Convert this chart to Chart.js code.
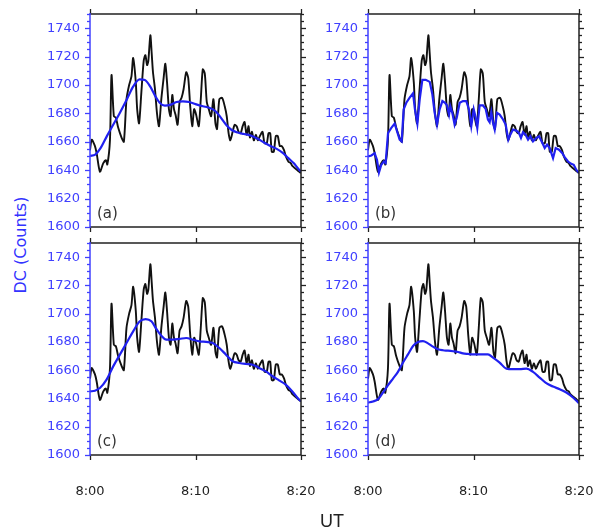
<!DOCTYPE html>
<html>
<head>
<meta charset="utf-8">
<script src="https://cdn.jsdelivr.net/npm/chart.js@4"></script>
<style>
body{margin:0;background:#fff;width:604px;height:530px;overflow:hidden;position:relative;font-family:"Liberation Sans",Arial,sans-serif}
canvas{position:absolute}
#ytitle{position:absolute;left:20px;top:245px;transform:translate(-50%,-50%) rotate(-90deg);color:#3333ff;font-size:16px;font-family:"DejaVu Sans",sans-serif;white-space:nowrap}
#xtitle{position:absolute;left:332px;top:521px;transform:translate(-50%,-50%);color:#222;font-size:18px}
</style>
</head>
<body>
<canvas id="pa" width="294" height="236" style="left:32px;top:0px"></canvas>
<canvas id="pb" width="294" height="236" style="left:310px;top:0px"></canvas>
<canvas id="pc" width="294" height="280" style="left:32px;top:229px"></canvas>
<canvas id="pd" width="294" height="280" style="left:310px;top:229px"></canvas>
<div id="ytitle">DC (Counts)</div>
<div id="xtitle">UT</div>
<script>
// DATA  (time in minutes after 8:00)
const xTickLabels = ['8:00', '8:10', '8:20'];
const yTickValues = [1600, 1620, 1640, 1660, 1680, 1700, 1720, 1740];
const panelLabels = ['(a)', '(b)', '(c)', '(d)'];

const timeBlack = [0, 0.16, 0.47, 0.63, 0.94, 1.26, 1.51, 1.64, 1.89, 2.04, 2.26, 2.45, 2.67, 2.99, 3.21, 3.46, 3.71, 3.93, 4.09, 4.34,
  4.47, 4.65, 4.87, 5.09, 5.25, 5.41, 5.53, 5.72, 5.85, 5.97, 6.16, 6.35, 6.54, 6.76, 6.98, 7.14, 7.30, 7.48, 7.64, 7.80,
  7.96, 8.11, 8.30, 8.49, 8.68, 8.87, 9.12, 9.31, 9.50, 9.69, 9.87, 10.06, 10.31, 10.50, 10.69, 10.88, 11.07, 11.26, 11.48, 11.70,
  11.89, 12.04, 12.26, 12.52, 12.77, 12.96, 13.14, 13.30, 13.52, 13.71, 13.90, 14.09, 14.28, 14.47, 14.65, 14.84, 15.03, 15.16, 15.35, 15.53,
  15.72, 15.91, 16.10, 16.35, 16.54, 16.76, 16.92, 17.08, 17.23, 17.42, 17.61, 17.80, 17.99, 18.18, 18.40, 18.55, 18.81, 19.03, 19.18, 19.50,
  19.81, 20.00];
const dcBlack = [1654, 1661.5, 1657, 1652, 1639, 1645, 1647, 1644, 1661, 1707, 1678, 1677, 1670, 1663, 1660, 1690, 1700, 1706, 1719, 1702,
  1683, 1673, 1695, 1717, 1721, 1714, 1717, 1735, 1722, 1709, 1697, 1680, 1671, 1690, 1705, 1715, 1702, 1683, 1678, 1693,
  1683, 1679, 1672, 1688, 1691, 1697, 1709, 1705, 1685, 1671, 1683, 1679, 1671, 1690, 1711, 1708, 1688, 1683, 1678, 1690,
  1673, 1669, 1690, 1691, 1685, 1678, 1666, 1661, 1667, 1672, 1671, 1667, 1666, 1671, 1674, 1665, 1671, 1663, 1667, 1661,
  1665, 1661, 1664, 1667, 1659, 1659, 1666, 1666, 1653, 1653, 1664, 1664, 1657, 1657, 1654, 1650, 1646, 1645, 1643, 1641,
  1639, 1638];

const timeA = [0, 0.5, 1.0, 1.6, 2.2, 2.8, 3.5, 4.1, 4.7, 5.2, 5.7, 6.2, 6.6, 7.1, 7.6, 8.2, 8.8, 9.4, 10.0, 10.7,
  11.3, 11.9, 12.4, 12.9, 13.4, 14.0, 14.6, 15.2, 15.8, 16.5, 17.1, 17.7, 18.3, 18.8, 19.3, 19.8, 20.0];
const dcA = [1650, 1651, 1655.5, 1664, 1672, 1680, 1690, 1699, 1704, 1703.5, 1699, 1692, 1687.5, 1685.5, 1686, 1688, 1688.5, 1688, 1686.5, 1685,
  1684, 1681.5, 1677, 1672, 1668.5, 1666.5, 1665.5, 1664.5, 1662.5, 1659.5, 1657, 1655, 1652, 1648.5, 1645, 1640.5, 1639];

const timeB = [0, 0.32, 0.63, 0.85, 1.04, 1.26, 1.49, 1.67, 1.90, 2.21, 2.53, 2.75, 3.00, 3.19, 3.38, 3.63, 3.95, 4.27, 4.45, 4.68,
  4.90, 5.15, 5.47, 5.85, 6.10, 6.32, 6.54, 6.79, 7.05, 7.30, 7.49, 7.68, 7.80, 7.99, 8.21, 8.44, 8.69, 9.00, 9.32, 9.57,
  9.79, 10.02, 10.21, 10.36, 10.58, 10.90, 11.15, 11.37, 11.53, 11.69, 11.85, 12.01, 12.23, 12.48, 12.80, 13.05, 13.30, 13.49, 13.74, 14.06,
  14.31, 14.50, 14.69, 14.94, 15.17, 15.39, 15.64, 15.96, 16.21, 16.53, 16.75, 16.97, 17.22, 17.54, 17.79, 18.10, 18.42, 18.64, 18.96, 19.27,
  19.50, 19.75, 20.00];
const dcB = [1649.7, 1650.4, 1652, 1647.3, 1638.3, 1643.8, 1646.1, 1645, 1666.2, 1669.8, 1672.8, 1667.4, 1661.5, 1660.3, 1682.8, 1687.5, 1691.1, 1694.1, 1682.8, 1672.8,
  1689.9, 1703.6, 1703.6, 1702.2, 1693.4, 1680.4, 1672.1, 1682.8, 1688.7, 1687.5, 1685.6, 1679.2, 1685.1, 1680.4, 1672.1, 1678, 1687.5, 1688.7, 1688.7, 1682.8,
  1671, 1682.8, 1676.9, 1669.8, 1685.6, 1685.6, 1683.3, 1675.7, 1673.8, 1680.9, 1673.3, 1668.6, 1680.4, 1679.2, 1675.7, 1672.1, 1661.5, 1665, 1668.6, 1667.9,
  1666.2, 1662.7, 1666.7, 1665, 1661.5, 1663.9, 1660.3, 1662.7, 1663.9, 1659.1, 1655.6, 1658, 1655.6, 1648.5, 1655.6, 1654.4, 1652, 1649.2, 1646.1, 1644.5,
  1643.8, 1640.2, 1638.3];

const timeC = [0, 0.47, 0.94, 1.57, 2.20, 2.83, 3.46, 4.09, 4.72, 5.28, 5.82, 6.29, 6.76, 7.23, 7.86, 8.49, 9.12, 9.75, 10.38, 11.01,
  11.64, 12.26, 12.89, 13.52, 14.15, 14.78, 15.41, 16.04, 16.67, 17.30, 17.92, 18.55, 19.18, 19.81, 20.00];
const dcC = [1645, 1645.5, 1647.4, 1653.3, 1662.7, 1671, 1679.2, 1687.5, 1694.6, 1696.2, 1694.6, 1689.2, 1684.4, 1681.6, 1681.6, 1682.1, 1682.8, 1681.6, 1680.4, 1680,
  1679.2, 1675.7, 1671, 1666.3, 1665.1, 1664.4, 1663.9, 1661.6, 1659.2, 1655.7, 1652.8, 1649.8, 1645, 1639.2, 1638];

const timeD = [0, 0.47, 0.95, 1.42, 1.90, 2.37, 2.84, 3.32, 3.79, 4.27, 4.74, 5.21, 5.69, 6.16, 6.64, 7.11, 7.58, 8.06, 8.53, 9.00,
  9.48, 9.95, 10.43, 10.90, 11.37, 11.85, 12.48, 13.11, 13.74, 14.38, 15.01, 15.64, 16.27, 16.90, 17.54, 18.17, 18.80, 19.43, 20.00];
const dcD = [1637.1, 1637.9, 1639.5, 1644.2, 1649.4, 1654.1, 1658.8, 1665.4, 1671.2, 1677.1, 1680, 1680.6, 1679, 1676.7, 1674.8, 1674.1, 1673.8, 1673.4, 1672.9, 1671.9,
  1671.5, 1671.2, 1671.2, 1671.2, 1671.2, 1668.9, 1665.4, 1661.1, 1660.7, 1660.7, 1661.1, 1658.8, 1654.8, 1650.8, 1648.4, 1646.6, 1644.2, 1640.7, 1636.7];

// STYLE
const BLUE = '#2020f0';
const AXIS_BLUE = '#4040ff';
const TICK_FONT = '"DejaVu Sans", sans-serif';
Chart.defaults.font.family = TICK_FONT;

function pts(t, v) { return t.map((x, i) => ({x: x, y: v[i]})); }

// no extra room for edge labels, the plot box is fixed
function noPad(s) { s.paddingTop = 0; s.paddingBottom = 0; s.paddingLeft = 0; s.paddingRight = 0; }

// frame, outward ticks and panel letter
const framePlugin = {
  id: 'frame',
  afterDraw(chart, args, opts) {
    const {ctx, chartArea: a, scales: {x, y}} = chart;
    ctx.save();
    ctx.lineWidth = 1.3;
    for (let v = 1600; v <= 1750; v += 5) {
      const py = Math.round(y.getPixelForValue(v)) + 0.5;
      const len = v % 20 === 0 ? 5 : 3;
      ctx.strokeStyle = AXIS_BLUE;
      ctx.beginPath(); ctx.moveTo(a.left - len, py); ctx.lineTo(a.left, py); ctx.stroke();
      ctx.strokeStyle = '#222';
      ctx.beginPath(); ctx.moveTo(a.right, py); ctx.lineTo(a.right + len, py); ctx.stroke();
    }
    ctx.strokeStyle = '#222';
    [0, 10, 20].forEach(t => {
      const px = Math.round(x.getPixelForValue(t)) + 0.5;
      ctx.beginPath(); ctx.moveTo(px, a.top - 5); ctx.lineTo(px, a.top); ctx.stroke();
      ctx.beginPath(); ctx.moveTo(px, a.bottom); ctx.lineTo(px, a.bottom + 5); ctx.stroke();
    });
    ctx.lineWidth = 1.5;
    ctx.beginPath();
    ctx.moveTo(a.left, a.top); ctx.lineTo(a.right, a.top); ctx.lineTo(a.right, a.bottom); ctx.lineTo(a.left, a.bottom);
    ctx.stroke();
    ctx.strokeStyle = AXIS_BLUE;
    ctx.beginPath(); ctx.moveTo(a.left, a.top - 1); ctx.lineTo(a.left, a.bottom + 1); ctx.stroke();
    ctx.fillStyle = '#333';
    ctx.font = '15px ' + TICK_FONT;
    ctx.textBaseline = 'middle';
    ctx.fillText(opts.label, a.left + 7, a.bottom - 13);
    ctx.restore();
  }
};

function makePanel(id, blueT, blueV, smooth, label, bottomRow) {
  new Chart(document.getElementById(id), {
    type: 'line',
    data: {
      datasets: [
        {data: pts(blueT, blueV), borderColor: BLUE, borderWidth: 2.2, pointRadius: 0,
         cubicInterpolationMode: smooth ? 'monotone' : 'default', tension: 0, order: 0},
        {data: pts(timeBlack, dcBlack), borderColor: '#111', borderWidth: 1.9, pointRadius: 0, tension: 0.25, order: 1}
      ]
    },
    options: {
      responsive: false,
      animation: false,
      layout: {padding: {top: 14, right: 25, left: 0, bottom: 0}},
      plugins: {legend: {display: false}, tooltip: {enabled: false}, frame: {label: label}},
      scales: {
        x: {
          type: 'linear', min: 0, max: 20,
          grid: {display: false, drawTicks: false}, border: {display: false},
          ticks: {stepSize: 10, display: bottomRow, padding: 29, color: '#222', font: {size: 13},
                  maxRotation: 0, autoSkip: false, callback: v => xTickLabels[v / 10]},
          afterFit: s => { s.height = bottomRow ? 54 : 9; noPad(s); }
        },
        y: {
          min: 1600, max: 1750,
          grid: {display: false, drawTicks: false}, border: {display: false},
          ticks: {padding: 10, color: AXIS_BLUE, font: {size: 13}, autoSkip: false, callback: v => String(v)},
          afterBuildTicks: s => { s.ticks = yTickValues.map(v => ({value: v})); },
          afterFit: s => { s.width = 58; noPad(s); }
        }
      }
    },
    plugins: [framePlugin]
  });
}

makePanel('pa', timeA, dcA, true, panelLabels[0], false);
makePanel('pb', timeB, dcB, false, panelLabels[1], false);
makePanel('pc', timeC, dcC, true, panelLabels[2], true);
makePanel('pd', timeD, dcD, true, panelLabels[3], true);
</script>
</body>
</html>
